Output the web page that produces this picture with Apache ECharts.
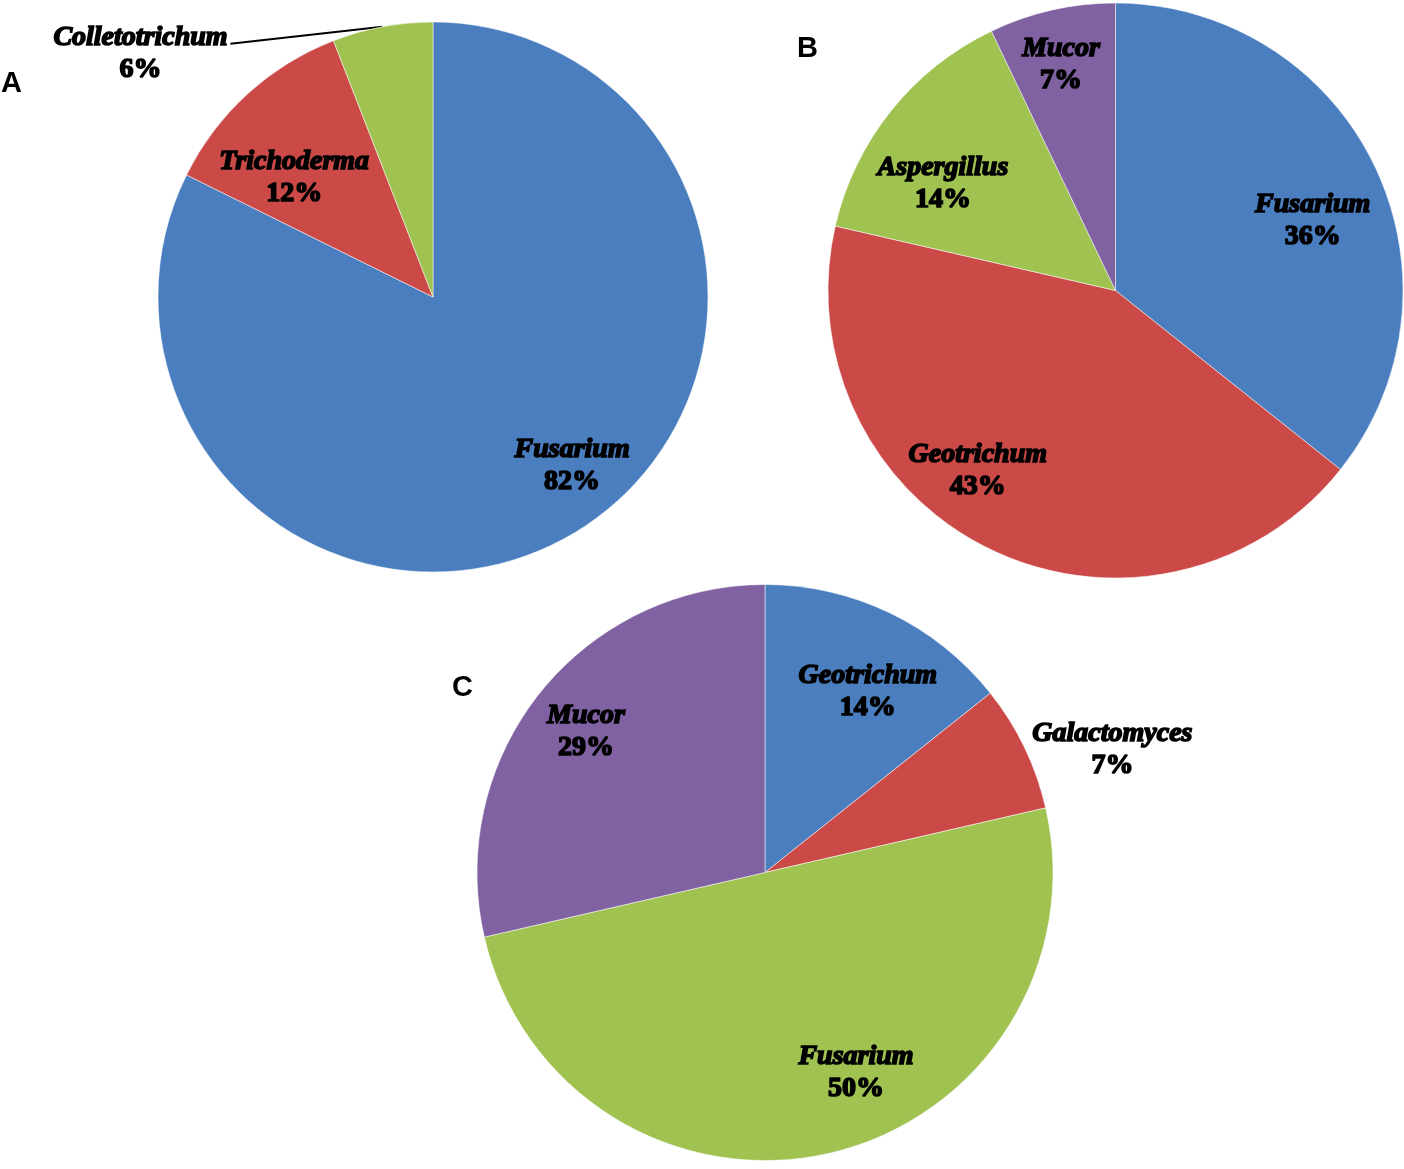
<!DOCTYPE html>
<html>
<head>
<meta charset="utf-8">
<title>Fungal genera pies</title>
<script src="https://cdn.jsdelivr.net/npm/echarts@6/dist/echarts.min.js"></script>
<style>
  html, body { margin: 0; padding: 0; background: #fff; }
  #chart { width: 1404px; height: 1169px; }
</style>
</head>
<body>
<div id="chart"></div>
<script>
// shares in % (labels show them rounded)
// panel A
const namesA = ['Fusarium', 'Trichoderma', 'Colletotrichum']
const valuesA = [82.4, 11.8, 5.9]
// panel B
const namesB = ['Fusarium', 'Geotrichum', 'Aspergillus', 'Mucor']
const valuesB = [35.7, 42.9, 14.3, 7.1]
// panel C
const namesC = ['Geotrichum', 'Galactomyces', 'Fusarium', 'Mucor']
const valuesC = [14.3, 7.1, 50, 28.6]

const BLUE = '#4a7ebf', RED = '#cb4a48', GREEN = '#9fc251', PURPLE = '#8062a3'
const colorsA = [BLUE, RED, GREEN]
const colorsB = [BLUE, RED, GREEN, PURPLE]
const colorsC = [BLUE, RED, GREEN, PURPLE]

// label nudges (px) from the default label spot, per slice
const nudgeA = [[65, 49], [-44, -16], [-129, 31]]
const nudgeB = [[65, -6], [-74, 48], [-58, -15], [-22, -83]]
const nudgeC = [[39, -48], [215, -59], [58, 57], [-64, -49]]

const chart = echarts.init(document.getElementById('chart'), null, { renderer: 'canvas' })

function makeData(names, values, colors) {
  let arr = []
  for (let i = 0; i < names.length; i++) {
    arr.push({ name: names[i], value: values[i], itemStyle: { color: colors[i] } })
  }
  return arr
}

const labelRich = {
  n: {
    fontFamily: 'Liberation Serif', fontStyle: 'italic', fontWeight: 'bold',
    fontSize: 28, lineHeight: 32, color: '#000',
    textBorderColor: '#000', textBorderWidth: 1.6, align: 'center'
  },
  v: {
    fontFamily: 'Liberation Serif', fontWeight: 'bold',
    fontSize: 28, lineHeight: 32, color: '#000',
    textBorderColor: '#000', textBorderWidth: 1.6, align: 'center'
  }
}

function makeLayout(nudge, lineIdx) {
  return function (params) {
    const r = params.labelRect
    const d = nudge[params.dataIndex]
    const x = r.x + r.width / 2 + d[0]
    const y = r.y + r.height / 2 + d[1]
    let out = { x: x, y: y, align: 'center', verticalAlign: 'middle' }
    if (params.dataIndex === lineIdx && params.labelLinePoints) {
      const p0 = params.labelLinePoints[0]
      out.labelLinePoints = [[p0[0], p0[1]], [p0[0], p0[1]], [x + r.width / 2 + 2, y - 10]]
    }
    return out
  }
}

function pieSeries(names, values, colors, center, radius, nudge, outsideIdx) {
  let data = makeData(names, values, colors)
  if (outsideIdx >= 0) {
    data[outsideIdx].label = { position: 'outside' }
    data[outsideIdx].labelLine = { show: true, length: 4, length2: 20, lineStyle: { color: '#000', width: 2 } }
  }
  return {
    type: 'pie',
    center: center,
    radius: [0, radius],
    startAngle: 90,
    clockwise: true,
    percentPrecision: 0,
    avoidLabelOverlap: false,
    emphasis: { disabled: true },
    itemStyle: { borderColor: 'rgba(255,255,255,0.5)', borderWidth: 1 },
    label: {
      show: true,
      position: 'inside',
      formatter: '{n|{b}}\n{v|{d}%}',
      rich: labelRich
    },
    labelLine: { show: false },
    labelLayout: makeLayout(nudge, outsideIdx),
    data: data
  }
}

const letterStyle = { fontFamily: 'Liberation Sans', fontWeight: 'bold', fontSize: 29, color: '#000' }

var option = {
  backgroundColor: '#ffffff',
  animation: false,
  title: [
    { text: 'A', left: 1, top: 69, padding: 0, textStyle: letterStyle },
    { text: 'B', left: 797, top: 34, padding: 0, textStyle: letterStyle },
    { text: 'C', left: 452, top: 673, padding: 0, textStyle: letterStyle }
  ],
  series: [
    pieSeries(namesA, valuesA, colorsA, [433, 297], 275, nudgeA, 2),
    pieSeries(namesB, valuesB, colorsB, [1115.5, 290.5], 287.5, nudgeB, -1),
    pieSeries(namesC, valuesC, colorsC, [765, 872.5], 288, nudgeC, -1)
  ]
}

chart.setOption(option)
</script>
</body>
</html>
